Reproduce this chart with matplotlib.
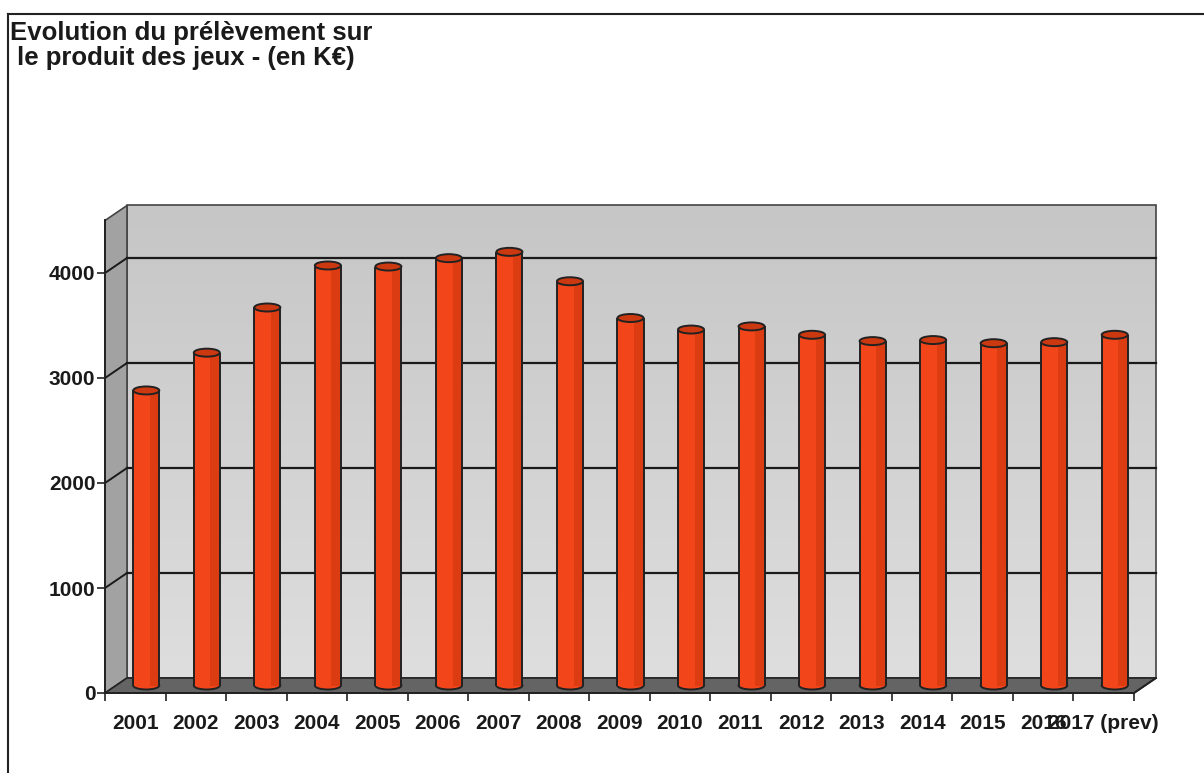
import matplotlib
matplotlib.use("Agg")
import matplotlib.pyplot as plt
from matplotlib.patches import Polygon, Ellipse
from matplotlib.lines import Line2D
import numpy as np

# valeurs (en K€)
years = ["2001", "2002", "2003", "2004", "2005", "2006", "2007", "2008", "2009",
         "2010", "2011", "2012", "2013", "2014", "2015", "2016", "2017 (prev)"]
values = [2810, 3170, 3600, 4000, 3990, 4070, 4130, 3850, 3500,
          3390, 3420, 3340, 3280, 3290, 3260, 3270, 3340]
y_ticks = [0, 1000, 2000, 3000, 4000]
y_max = 4500

title = "Evolution du prélèvement sur\n le produit des jeux - (en K€)"

plt.rcParams['font.family'] = ['Liberation Sans', 'DejaVu Sans']

W, H = 1204, 773
fig = plt.figure(figsize=(W / 100, H / 100), dpi=100)
fig.patch.set_facecolor("white")

ax_left, ax_bottom, ax_w, ax_h = 105, 80, 1029, 472.5
ax = fig.add_axes([ax_left / W, ax_bottom / H, ax_w / W, ax_h / H])
n = len(years)
x0, x1 = -0.5, n - 0.5

# depth offset of the fake 3D box, in data units
dx = 22 * n / ax_w
dy = 15 * y_max / ax_h

# back wall with a light gradient
grad = np.linspace(0, 1, 200).reshape(-1, 1)
ax.imshow(grad, cmap=matplotlib.colors.LinearSegmentedColormap.from_list(
    "wall", ["#dedede", "#c6c6c6"]), aspect="auto", origin="lower",
    extent=(x0 + dx, x1 + dx, dy, y_max + dy), zorder=0, clip_on=False)
ax.add_patch(Polygon([(x0 + dx, dy), (x1 + dx, dy), (x1 + dx, y_max + dy), (x0 + dx, y_max + dy)],
                     closed=True, fill=False, ec="#444444", lw=1.2, zorder=1, clip_on=False))

# left side wall
ax.add_patch(Polygon([(x0, 0), (x0 + dx, dy), (x0 + dx, y_max + dy), (x0, y_max)],
                     closed=True, fc="#a2a2a2", ec="#444444", lw=1.2, zorder=1, clip_on=False))

# floor
ax.add_patch(Polygon([(x0, 0), (x1, 0), (x1 + dx, dy), (x0 + dx, dy)],
                     closed=True, fc="#646464", ec="#222222", lw=1.2, zorder=1, clip_on=False))

# gridlines on back wall and left wall
for v in y_ticks[1:]:
    ax.plot([x0 + dx, x1 + dx], [v + dy, v + dy], color="#1a1a1a", lw=1.6, zorder=2, clip_on=False)
    ax.plot([x0, x0 + dx], [v, v + dy], color="#1a1a1a", lw=1.4, zorder=2, clip_on=False)

# cylinders
xs = np.arange(n) + dx / 2
bw = 0.43
eh = 8 * y_max / ax_h
red = "#f2461a"
base = dy / 2
for xc, v in zip(xs, values):
    ax.add_patch(Ellipse((xc, base), bw, eh, fc=red, ec="#222222", lw=1.4, zorder=3))
ax.bar(xs, values, width=bw, bottom=base, color=red, lw=0, zorder=4)
ax.bar(xs + bw * 0.32, values, width=bw * 0.36, bottom=base, color="#dc3c12", lw=0, zorder=4)
ax.vlines(xs - bw / 2, base, np.array(values) + base, color="#222222", lw=1.4, zorder=5)
ax.vlines(xs + bw / 2, base, np.array(values) + base, color="#222222", lw=1.4, zorder=5)
for xc, v in zip(xs, values):
    ax.add_patch(Ellipse((xc, v + base), bw, eh, fc="#cc3810", ec="#222222", lw=1.4, zorder=6))

ax.set_xlim(x0, x1)
ax.set_ylim(0, y_max)
ax.set_facecolor("none")

for s in ["top", "right"]:
    ax.spines[s].set_visible(False)
for s in ["left", "bottom"]:
    ax.spines[s].set_color("#222222")
    ax.spines[s].set_linewidth(1.4)
    ax.spines[s].set_zorder(7)

ax.set_yticks(y_ticks)
ax.set_yticklabels([str(t) for t in y_ticks], fontsize=15, fontweight="bold", color="#1a1a1a")
ax.tick_params(axis="y", length=6, width=1.2, direction="out", pad=1, color="#222222")

ax.set_xticks(np.arange(n))
ax.set_xticklabels(years, fontsize=15, fontweight="bold", color="#1a1a1a")
ax.set_xticks(np.arange(n + 1) - 0.5, minor=True)
ax.tick_params(axis="x", which="major", length=0, pad=15)
ax.tick_params(axis="x", which="minor", length=6, width=1.2, direction="out", color="#222222")

# right floor diagonal edge
ax.plot([x1, x1 + dx], [0, dy], color="#222222", lw=1.4, zorder=7, clip_on=False)

fig.text(10 / W, 1 - 21 / H, title, fontsize=18.5, fontweight="bold", color="#1a1a1a",
         va="top", ha="left", linespacing=1.05)

# outer frame (top and left edges)
fig.add_artist(Line2D([8 / W, 1], [1 - 14 / H, 1 - 14 / H], transform=fig.transFigure, color="#222222", lw=1.5))
fig.add_artist(Line2D([8 / W, 8 / W], [0, 1 - 14 / H], transform=fig.transFigure, color="#222222", lw=1.5))

fig.savefig("out.png", dpi=100)
